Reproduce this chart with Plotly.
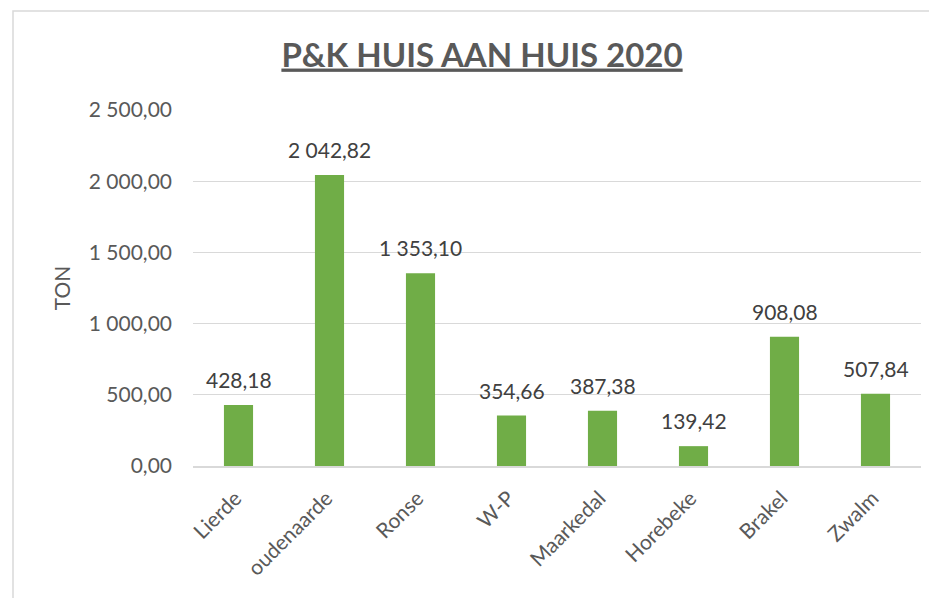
import plotly.graph_objects as go

categories = ["Lierde", "oudenaarde", "Ronse", "W-P", "Maarkedal", "Horebeke", "Brakel", "Zwalm"]
values = [428.18, 2042.82, 1353.10, 354.66, 387.38, 139.42, 908.08, 507.84]
y_ticks = [0, 500, 1000, 1500, 2000, 2500]

FONT = "Lato, 'Open Sans', sans-serif"
OFF = 8  # page body offset
W, H = 937, 598
L, T = 193 - OFF, 110 - OFF
R = W - (921 - OFF) - 0
B = H - (466 - OFF)
pw, ph = W - L - R, H - T - B

def px_x(px):
    return (px - OFF - L) / pw

def px_y(py):
    return (H - B - (py - OFF)) / ph

fig = go.Figure()
fig.add_trace(go.Bar(
    x=categories, y=values,
    marker=dict(color="#70AD47", line=dict(width=0)),
    hoverinfo="x+y",
))

for c, v in zip(categories, values):
    fig.add_annotation(x=c, y=v, text=f"{v:,.2f}".replace(",", " ").replace(".", ","),
                       showarrow=False, yanchor="bottom", yshift=11,
                       font=dict(family=FONT, size=21, color="#404040"))

fig.update_layout(
    width=W, height=H,
    margin=dict(l=L, r=R, t=T, b=B, autoexpand=False),
    paper_bgcolor="white", plot_bgcolor="white",
    separators=", ",
    bargap=0.68,
    showlegend=False,
    title=dict(text="<b><u>P&K HUIS AAN HUIS 2020</u></b>", x=px_x(482), xref="paper", xanchor="center",
               y=1 - (55 - OFF) / H, yanchor="middle",
               font=dict(family=FONT, size=33, color="#595959")),
    xaxis=dict(tickangle=-45, tickfont=dict(family=FONT, size=21, color="#595959"),
               showline=True, linecolor="#D9D9D9", linewidth=1.5, ticks="", showgrid=False,
               ticklabelstandoff=10, ticklabelshift=-3),
    yaxis=dict(range=[0, 2500], tickvals=y_ticks, tickformat=",.2f",
               tickfont=dict(family=FONT, size=21, color="#595959"),
               showgrid=True, gridcolor="#D9D9D9", gridwidth=1, zeroline=False,
               ticks="", ticklabelstandoff=20,
               title=dict(text="TON", font=dict(family=FONT, size=21, color="#595959"), standoff=12)),
    shapes=[dict(type="rect", xref="paper", yref="paper",
                 x0=px_x(13), x1=px_x(980), y0=px_y(640), y1=px_y(11),
                 line=dict(color="#D9D9D9", width=1.5), fillcolor="rgba(0,0,0,0)", layer="below")],
)

fig.write_html("out.html")
